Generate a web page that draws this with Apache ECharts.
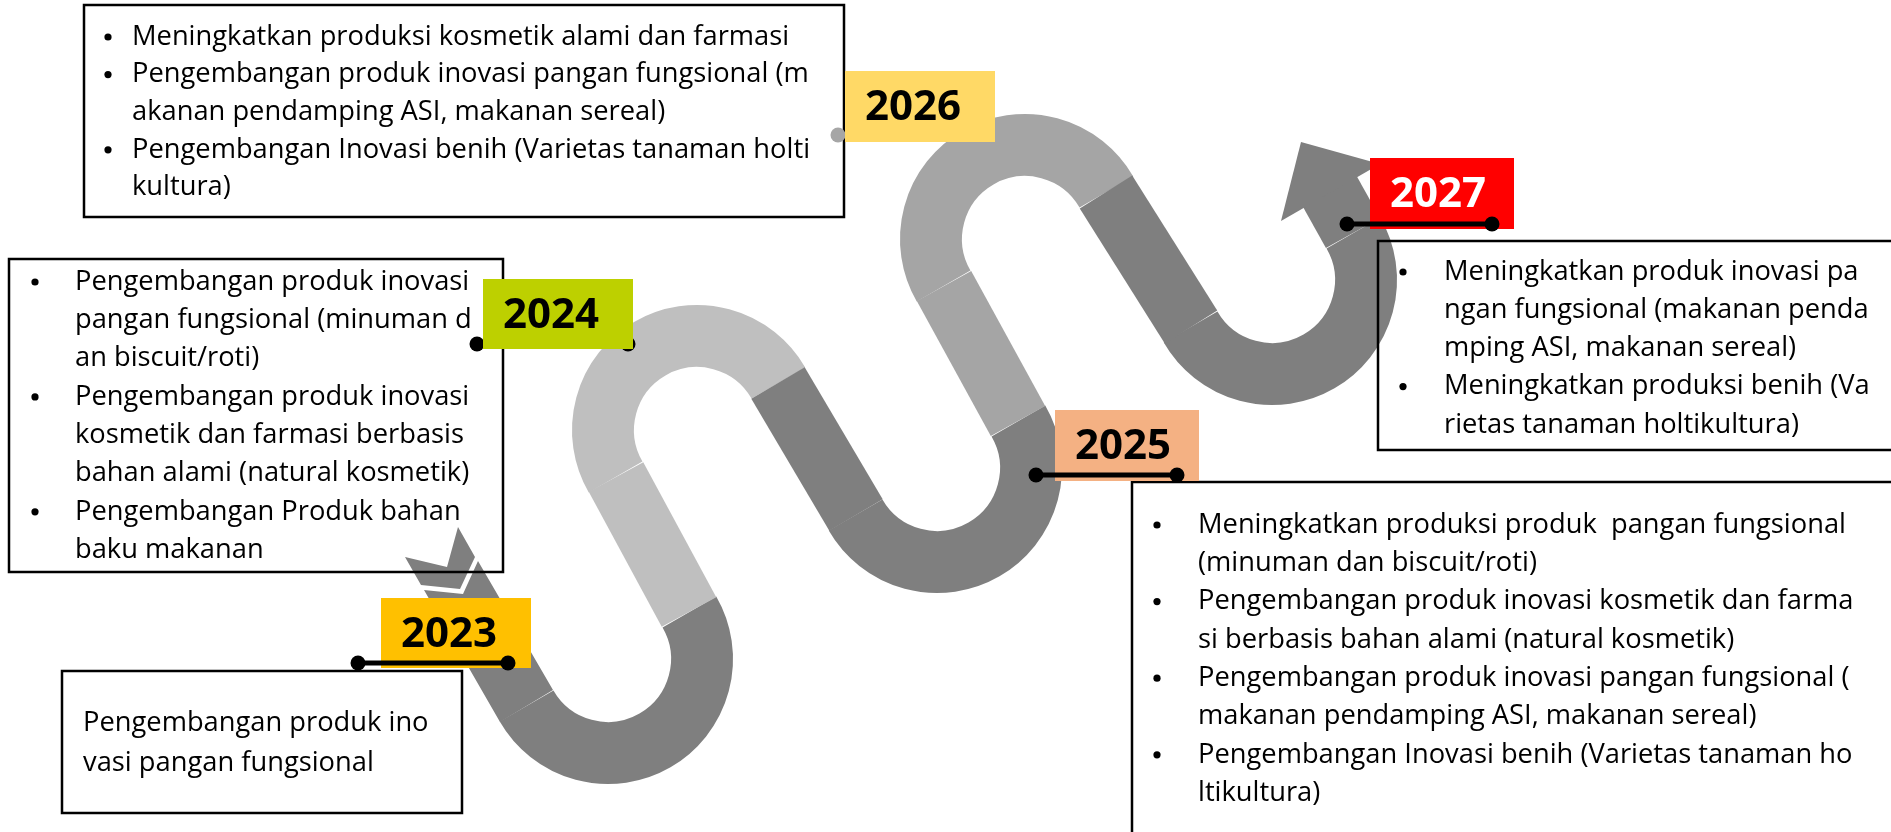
<!DOCTYPE html>
<html>
<head>
<meta charset="utf-8">
<script src="https://cdn.jsdelivr.net/npm/echarts@6/dist/echarts.min.js"></script>
<style>
  html, body { margin: 0; padding: 0; background: #fff; }
  #chart { width: 1891px; height: 832px; }
</style>
</head>
<body>
<div id="chart"></div>
<script>
// ---- data: years and the plans written beside them ----
var years = ['2023', '2024', '2025', '2026', '2027']

var notes2023 = [
  ['Pengembangan produk ino', 'vasi pangan fungsional']
]
var notes2024 = [
  ['Pengembangan produk inovasi', 'pangan fungsional (minuman d', 'an biscuit/roti)'],
  ['Pengembangan produk inovasi', 'kosmetik dan farmasi berbasis', 'bahan alami (natural kosmetik)'],
  ['Pengembangan Produk bahan', 'baku makanan']
]
var notes2025 = [
  ['Meningkatkan produksi produk  pangan fungsional', '(minuman dan biscuit/roti)'],
  ['Pengembangan produk inovasi kosmetik dan farma', 'si berbasis bahan alami (natural kosmetik)'],
  ['Pengembangan produk inovasi pangan fungsional (', 'makanan pendamping ASI, makanan sereal)'],
  ['Pengembangan Inovasi benih (Varietas tanaman ho', 'ltikultura)']
]
var notes2026 = [
  ['Meningkatkan produksi kosmetik alami dan farmasi'],
  ['Pengembangan produk inovasi pangan fungsional (m', 'akanan pendamping ASI, makanan sereal)'],
  ['Pengembangan Inovasi benih (Varietas tanaman holti', 'kultura)']
]
var notes2027 = [
  ['Meningkatkan produk inovasi pa', 'ngan fungsional (makanan penda', 'mping ASI, makanan sereal)'],
  ['Meningkatkan produksi benih (Va', 'rietas tanaman holtikultura)']
]
var allNotes = [notes2023, notes2024, notes2025, notes2026, notes2027]

// ---- layout (page pixels, mapped through a hidden 0..1891 x 0..832 grid) ----
var ROAD_R = 94      // centre radius of every bend
var ROAD_W = 62      // road width
// bend centres, bottom bends open upward, top bends open downward
var bendCenters = [[608, 659], [697, 430], [937, 468], [1025, 239], [1272, 280]]
var bendIsTop = [0, 1, 0, 1, 0]
var bendColors = ['#7F7F7F', '#BFBFBF', '#7F7F7F', '#A5A5A5', '#7F7F7F']
// straight pieces between bends [x1, y1, x2, y2]
var straights = [[689, 612, 616, 477], [778, 383, 856, 515], [1018, 421, 944, 286], [1106, 192, 1191, 327], [1353, 233, 1329, 190]]
var straightColors = ['#BFBFBF', '#7F7F7F', '#A5A5A5', '#7F7F7F', '#7F7F7F']
// tail (notched end + feather) and arrow head
var roadPolys = [
  [[424, 590], [463, 594], [478, 561], [553, 690], [500, 722]],
  [[405, 557], [447, 567], [458, 527], [475, 557], [460, 589], [421, 585]],
  [[1281, 221], [1301, 142], [1380, 164]]
]

var tagBoxes = [[381, 598, 531, 668], [483, 279, 633, 349], [1055, 410, 1199, 481], [845, 71, 995, 142], [1370, 158, 1514, 229]]
var tagColors = ['#FFC000', '#BDD000', '#F4B183', '#FFD966', '#FF0000']
var tagTextColors = ['#000', '#000', '#000', '#000', '#fff']
// connector [x1, x2, y]
var connectors = [[358, 508, 663], [477, 628, 344], [1036, 1177, 475], [838, 985, 135], [1347, 1492, 224]]
var connectorColors = ['#000', '#000', '#000', '#A6A6A6', '#000']
var connectorOnTop = [true, false, true, false, true]

var noteBoxes = [[62, 671, 462, 813], [9, 259, 503, 572], [1132, 482, 1900, 845], [84, 5, 844, 217], [1378, 241, 1900, 450]]
// [bulletX, textX, firstLineY, lineGap]
var noteLayout = [[0, 83, 723, 40], [35, 75, 282, 38.3], [1157, 1198, 525, 38.3], [108, 132, 37, 37.6], [1403, 1444, 272, 38.2]]
var noteBullets = [false, true, true, true, true]

var FONT = '"Open Sans", "Noto Sans", sans-serif'

var chart = echarts.init(document.getElementById('chart'))

function bendItem(params, api) {
  var p = api.coord([api.value(0), api.value(1)])
  var r = api.size([ROAD_R, 0])[0]
  var w = api.size([ROAD_W, 0])[0]
  var top = api.value(2) === 1
  return {
    type: 'arc',
    shape: {
      cx: p[0], cy: p[1], r: r,
      startAngle: top ? Math.PI * 5 / 6 : -Math.PI / 6,
      endAngle: top ? Math.PI * 11 / 6 : Math.PI * 5 / 6,
      clockwise: true
    },
    style: { stroke: api.visual('color'), lineWidth: w, fill: 'none', lineCap: 'butt' }
  }
}

function straightItem(params, api) {
  var a = api.coord([api.value(0), api.value(1)])
  var b = api.coord([api.value(2), api.value(3)])
  var w = api.size([ROAD_W, 0])[0]
  return {
    type: 'line',
    shape: { x1: a[0], y1: a[1], x2: b[0], y2: b[1] },
    style: { stroke: api.visual('color'), lineWidth: w, lineCap: 'butt' }
  }
}

function polyItem(params, api) {
  var pts = roadPolys[params.dataIndex].map(function (pt) { return api.coord(pt) })
  return {
    type: 'polygon',
    shape: { points: pts },
    style: { fill: api.visual('color') }
  }
}

function noteItem(params, api) {
  var i = params.dataIndex
  var p1 = api.coord([api.value(0), api.value(1)])
  var p2 = api.coord([api.value(2), api.value(3)])
  var lay = noteLayout[i]
  var children = [{
    type: 'rect',
    shape: { x: p1[0], y: p1[1], width: p2[0] - p1[0], height: p2[1] - p1[1] },
    style: { fill: 'none', stroke: '#000', lineWidth: 2.5 }
  }]
  var line = 0
  allNotes[i].forEach(function (item) {
    item.forEach(function (txt, k) {
      var pos = api.coord([lay[1], lay[2] + line * lay[3]])
      if (k === 0 && noteBullets[i]) {
        var bp = api.coord([lay[0], lay[2] + line * lay[3]])
        children.push({
          type: 'circle',
          shape: { cx: bp[0], cy: bp[1], r: 3.6 },
          style: { fill: '#000' }
        })
      }
      children.push({
        type: 'text',
        style: { text: txt, x: pos[0], y: pos[1], fill: '#000', font: '27.3px ' + FONT, align: 'left', verticalAlign: 'middle', textAlign: 'left', textVerticalAlign: 'middle' }
      })
      line++
    })
  })
  return { type: 'group', children: children }
}

function tagItem(params, api) {
  var i = params.dataIndex
  var p1 = api.coord([api.value(0), api.value(1)])
  var p2 = api.coord([api.value(2), api.value(3)])
  var c = connectors[i]
  var a = api.coord([c[0], c[2]])
  var b = api.coord([c[1], c[2]])
  var box = {
    type: 'rect',
    shape: { x: p1[0], y: p1[1], width: p2[0] - p1[0], height: p2[1] - p1[1] },
    style: { fill: tagColors[i] }
  }
  var label = {
    type: 'text',
    style: {
      text: years[i], x: p1[0] + 20, y: (p1[1] + p2[1]) / 2 + 2,
      fill: tagTextColors[i], font: 'bold 42px ' + FONT,
      align: 'left', verticalAlign: 'middle', textAlign: 'left', textVerticalAlign: 'middle'
    }
  }
  var col = connectorColors[i]
  var link = [
    { type: 'line', shape: { x1: a[0], y1: a[1], x2: b[0], y2: b[1] }, style: { stroke: col, lineWidth: 5 } },
    { type: 'circle', shape: { cx: a[0], cy: a[1], r: 7.5 }, style: { fill: col } },
    { type: 'circle', shape: { cx: b[0], cy: b[1], r: 7.5 }, style: { fill: col } }
  ]
  var children = connectorOnTop[i] ? [box, label].concat(link) : link.concat([box, label])
  return { type: 'group', children: children }
}

var option = {
  animation: false,
  backgroundColor: '#fff',
  grid: { left: 0, right: 0, top: 0, bottom: 0 },
  xAxis: { type: 'value', min: 0, max: 1891, show: false },
  yAxis: { type: 'value', min: 0, max: 832, inverse: true, show: false },
  series: [
    {
      type: 'custom', name: 'bends', z: 1,
      renderItem: bendItem,
      data: bendCenters.map(function (c, i) {
        return { value: [c[0], c[1], bendIsTop[i]], itemStyle: { color: bendColors[i] } }
      })
    },
    {
      type: 'custom', name: 'straights', z: 1,
      renderItem: straightItem,
      data: straights.map(function (s, i) {
        return { value: s, itemStyle: { color: straightColors[i] } }
      })
    },
    {
      type: 'custom', name: 'ends', z: 1,
      renderItem: polyItem,
      data: roadPolys.map(function (p) {
        return { value: p[0], itemStyle: { color: '#7F7F7F' } }
      })
    },
    {
      type: 'custom', name: 'notes', z: 2,
      renderItem: noteItem,
      data: noteBoxes
    },
    {
      type: 'custom', name: 'years', z: 3,
      renderItem: tagItem,
      data: tagBoxes
    }
  ]
}
chart.setOption(option)
</script>
</body>
</html>
